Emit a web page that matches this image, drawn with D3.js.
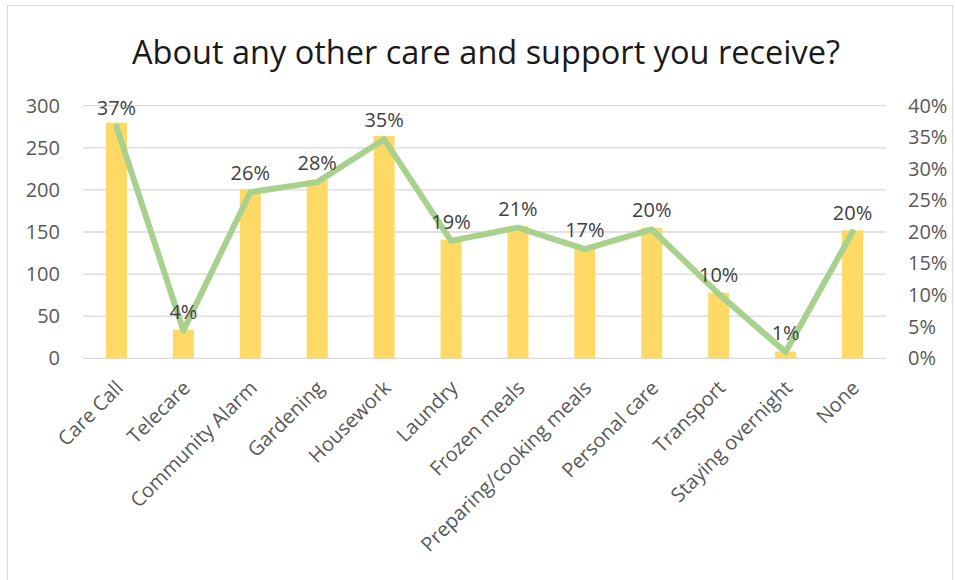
<!DOCTYPE html>
<html>
<head>
<meta charset="utf-8">
<script src="https://cdn.jsdelivr.net/npm/d3@7"></script>
<style>
  html, body { margin: 0; padding: 0; background: #fff; }
  svg { display: block; }
</style>
</head>
<body>
<svg id="chart" width="955" height="580"></svg>
<script>
// Services received: respondent counts (bars) and share of respondents (line)
const categories = ["Care Call", "Telecare", "Community Alarm", "Gardening", "Housework",
  "Laundry", "Frozen meals", "Preparing/cooking meals", "Personal care", "Transport",
  "Staying overnight", "None"];
const counts = [280, 34, 201, 212, 264, 141, 157, 131, 155, 78, 8, 152];
const shares = [0.367, 0.044, 0.263, 0.279, 0.347, 0.186, 0.207, 0.173, 0.204, 0.102, 0.010, 0.200];
const countTicks = [0, 50, 100, 150, 200, 250, 300];
const shareTicks = [0, 0.05, 0.10, 0.15, 0.20, 0.25, 0.30, 0.35, 0.40];
const titleText = "About any other care and support you receive?";

const svg = d3.select("#chart");
const W = 955, H = 580;
const plot = { left: 83, right: 886, top: 105.7, bottom: 358.3 };
const font = "'Open Sans', 'Noto Sans', sans-serif";
const textColor = "#595959";

// chart frame
svg.append("rect")
  .attr("x", 7.5).attr("y", 5.5)
  .attr("width", W - 10).attr("height", H - 4)
  .attr("fill", "#fff").attr("stroke", "#d9d9d9").attr("stroke-width", 1);

const x = d3.scaleBand().domain(categories).range([plot.left, plot.right]).paddingInner(0).paddingOuter(0);
const yL = d3.scaleLinear().domain([0, 300]).range([plot.bottom, plot.top]);
const yR = d3.scaleLinear().domain([0, 0.40]).range([plot.bottom, plot.top]);

// gridlines
svg.append("g")
  .selectAll("line").data(countTicks).join("line")
  .attr("x1", plot.left).attr("x2", plot.right)
  .attr("y1", d => yL(d)).attr("y2", d => yL(d))
  .attr("stroke", "#d9d9d9").attr("stroke-width", 1.3);

// left axis
const leftAxis = svg.append("g")
  .attr("transform", `translate(${plot.left},0)`)
  .call(d3.axisLeft(yL).tickValues(countTicks).tickSize(0).tickPadding(23));
leftAxis.select(".domain").remove();
leftAxis.selectAll("text")
  .attr("font-family", font).attr("font-size", 20).attr("fill", textColor);

// right axis
const rightAxis = svg.append("g")
  .attr("transform", `translate(${plot.right},0)`)
  .call(d3.axisRight(yR).tickValues(shareTicks).tickSize(0).tickPadding(22).tickFormat(d3.format(".0%")));
rightAxis.select(".domain").remove();
rightAxis.selectAll("text")
  .attr("font-family", font).attr("font-size", 20).attr("fill", textColor);

// bars
const barW = 21;
svg.append("g")
  .selectAll("rect").data(categories).join("rect")
  .attr("x", d => x(d) + x.bandwidth() / 2 - barW / 2)
  .attr("width", barW)
  .attr("y", (d, i) => yL(counts[i]))
  .attr("height", (d, i) => yL(0) - yL(counts[i]))
  .attr("fill", "#ffd966");

// share line
const line = d3.line()
  .x((d, i) => x(categories[i]) + x.bandwidth() / 2)
  .y(d => yR(d));
svg.append("path")
  .datum(shares)
  .attr("d", line)
  .attr("fill", "none")
  .attr("stroke", "#a9d18e")
  .attr("stroke-width", 6)
  .attr("stroke-linejoin", "round")
  .attr("stroke-linecap", "round");

// share labels
svg.append("g")
  .selectAll("text").data(shares).join("text")
  .attr("x", (d, i) => x(categories[i]) + x.bandwidth() / 2)
  .attr("y", d => yR(d) - 12)
  .attr("text-anchor", "middle")
  .attr("font-family", font).attr("font-size", 20).attr("fill", "#404040")
  .text(d => d3.format(".0%")(d));

// category labels
svg.append("g")
  .selectAll("text").data(categories).join("text")
  .attr("transform", d => `translate(${x(d) + x.bandwidth() / 2 + 3},${plot.bottom + 26}) rotate(-45)`)
  .attr("text-anchor", "end")
  .attr("dy", "0.35em")
  .attr("font-family", font).attr("font-size", 20).attr("fill", textColor)
  .text(d => d);

// title
svg.append("text")
  .attr("x", 486).attr("y", 64)
  .attr("text-anchor", "middle")
  .attr("font-family", font).attr("font-size", 32.5).attr("fill", "#1a1a1a")
  .text(titleText);
</script>
</body>
</html>
